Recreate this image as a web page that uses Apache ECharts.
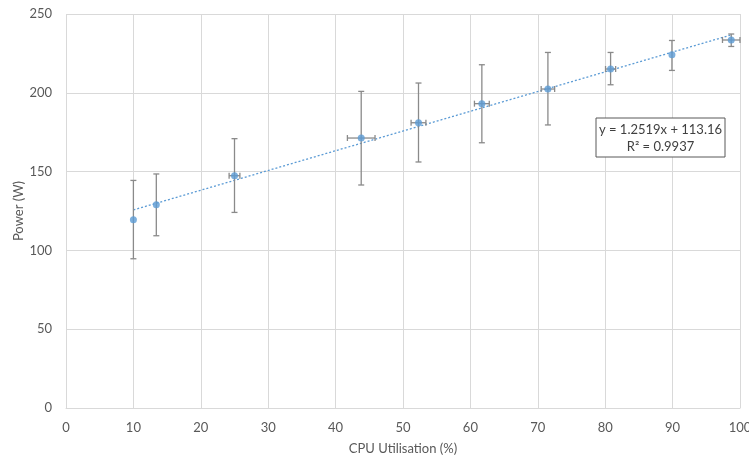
<!DOCTYPE html>
<html>
<head>
<meta charset="utf-8">
<script src="https://cdn.jsdelivr.net/npm/echarts@6/dist/echarts.min.js"></script>
<style>
html,body{margin:0;padding:0;background:#fff;}
#chart{width:749px;height:457px;}
</style>
</head>
<body>
<div id="chart"></div>
<script>
// ---- data ----
var cpuUtil   = [10.0, 13.4, 25.0, 43.8, 52.3, 61.7, 71.5, 80.8, 89.9, 98.7];
var power     = [119.5, 129.0, 147.4, 171.3, 181.0, 193.1, 202.4, 215.1, 224.2, 233.5];
var powerLow  = [94.7, 109.3, 124.1, 141.5, 156.1, 168.3, 179.6, 205.1, 214.2, 229.4];
var powerHigh = [144.4, 148.5, 170.9, 200.9, 206.2, 217.8, 225.6, 225.6, 233.2, 237.3];
var cpuErr    = [0, 0, 0.8, 2.05, 1.1, 1.1, 1.0, 0.75, 0, 1.3];
var trendSlope = 1.2519;
var trendIntercept = 113.16;
var trendRange = [10.0, 98.7];
var xTicks = [0, 10, 20, 30, 40, 50, 60, 70, 80, 90, 100];
var yTicks = [0, 50, 100, 150, 200, 250];
var eqLine1 = 'y = 1.2519x + 113.16';
var eqLine2 = 'R\u00B2 = 0.9937';

var FONT = 'Lato, "Open Sans", sans-serif';
var errData = cpuUtil.map(function (x, i) {
  return [x, power[i], powerLow[i], powerHigh[i], cpuErr[i]];
});
var trendData = trendRange.map(function (x) { return [x, trendSlope * x + trendIntercept]; });

function renderErr(params, api) {
  var x = api.value(0), y = api.value(1), lo = api.value(2), hi = api.value(3), xe = api.value(4);
  var pLo = api.coord([x, lo]), pHi = api.coord([x, hi]);
  var cap = 3;
  var st = { stroke: '#8a8a8a', lineWidth: 1.3 };
  var children = [
    { type: 'line', shape: { x1: pLo[0], y1: pLo[1], x2: pHi[0], y2: pHi[1] }, style: st },
    { type: 'line', shape: { x1: pLo[0] - cap, y1: pLo[1], x2: pLo[0] + cap, y2: pLo[1] }, style: st },
    { type: 'line', shape: { x1: pHi[0] - cap, y1: pHi[1], x2: pHi[0] + cap, y2: pHi[1] }, style: st }
  ];
  if (xe > 0) {
    var pL = api.coord([x - xe, y]), pR = api.coord([x + xe, y]);
    children.push({ type: 'line', shape: { x1: pL[0], y1: pL[1], x2: pR[0], y2: pR[1] }, style: st });
    children.push({ type: 'line', shape: { x1: pL[0], y1: pL[1] - cap, x2: pL[0], y2: pL[1] + cap }, style: st });
    children.push({ type: 'line', shape: { x1: pR[0], y1: pR[1] - cap, x2: pR[0], y2: pR[1] + cap }, style: st });
  }
  return { type: 'group', children: children };
}

var chart = echarts.init(document.getElementById('chart'), null, { renderer: 'canvas' });
chart.setOption({
  animation: false,
  backgroundColor: '#ffffff',
  grid: { left: 66, right: 9, top: 14, bottom: 49, containLabel: false, outerBoundsMode: 'none' },
  xAxis: {
    type: 'value', min: xTicks[0], max: xTicks[xTicks.length - 1], interval: 10,
    name: 'CPU Utilisation (%)', nameLocation: 'middle', nameGap: 34, nameMoveOverlap: false,
    nameTextStyle: { color: '#595959', fontSize: 13, fontFamily: FONT },
    axisLine: { show: true, lineStyle: { color: '#d9d9d9' } },
    axisTick: { show: false },
    axisLabel: { color: '#595959', fontSize: 13, fontFamily: FONT, margin: 13 },
    splitLine: { show: true, lineStyle: { color: '#d9d9d9', width: 1 } }
  },
  yAxis: {
    type: 'value', min: yTicks[0], max: yTicks[yTicks.length - 1], interval: 50,
    name: 'Power (W)', nameLocation: 'middle', nameGap: 41, nameRotate: 90, nameMoveOverlap: false,
    nameTextStyle: { color: '#595959', fontSize: 13, fontFamily: FONT },
    axisLine: { show: false },
    axisTick: { show: false },
    axisLabel: { color: '#595959', fontSize: 13, fontFamily: FONT, margin: 14 },
    splitLine: { show: true, lineStyle: { color: '#d9d9d9', width: 1 } }
  },
  series: [
    {
      type: 'line', data: trendData, symbol: 'none', z: 2,
      lineStyle: { color: '#5b9bd5', width: 1.3, type: [2, 2] }
    },
    {
      type: 'custom', data: errData, renderItem: renderErr, z: 3,
      encode: { x: 0, y: [1, 2, 3] }
    },
    {
      type: 'scatter', data: cpuUtil.map(function (x, i) { return [x, power[i]]; }),
      symbol: 'circle', symbolSize: 7, z: 4,
      itemStyle: { color: '#5b9bd5' }
    }
  ],
  graphic: [
    {
      type: 'rect', x: 596, y: 118, z: 10,
      shape: { x: 0, y: 0, width: 129, height: 39 },
      style: { fill: '#ffffff', stroke: '#595959', lineWidth: 1 }
    },
    {
      type: 'text', x: 660.5, y: 121, z: 11,
      style: { text: eqLine1 + '\n' + eqLine2, align: 'center', verticalAlign: 'top', fill: '#404040', font: '13px ' + FONT, lineHeight: 17 }
    }
  ]
});
</script>
</body>
</html>
